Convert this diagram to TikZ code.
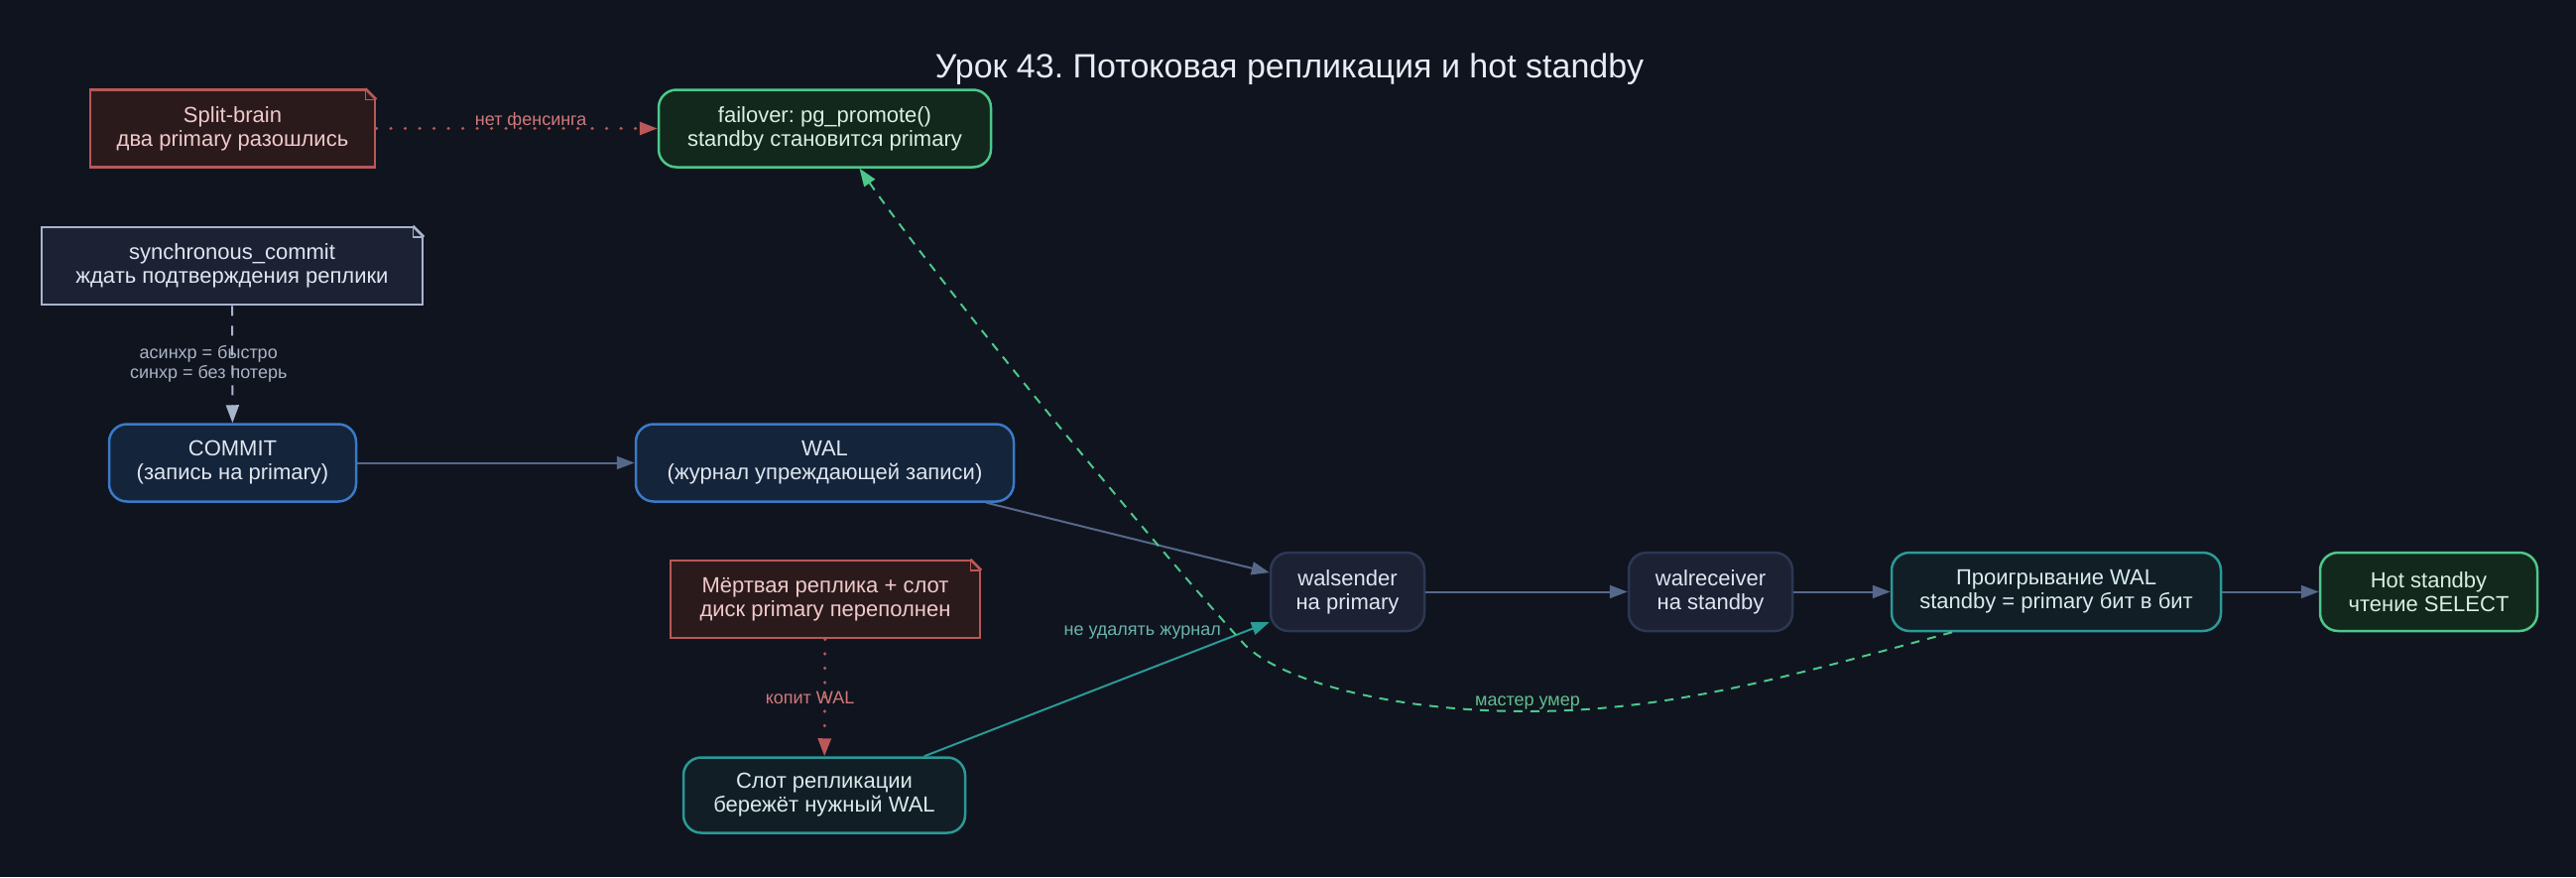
\documentclass[tikz,border=0pt]{standalone}
\usepackage{fontspec}
\setmainfont{Liberation Sans}
\usetikzlibrary{arrows.meta}
\frenchspacing

\definecolor{bgcol}{HTML}{10141F}
\definecolor{titlecol}{HTML}{E8ECF4}
\definecolor{flowcol}{HTML}{56688A}
% red notes
\definecolor{redfill}{HTML}{2B1A1C}
\definecolor{redline}{HTML}{B85858}
\definecolor{redtext}{HTML}{F0CACA}
\definecolor{redlbl}{HTML}{D07A7A}
% green boxes
\definecolor{greenfill}{HTML}{12281C}
\definecolor{greenline}{HTML}{4CC88A}
\definecolor{greentext}{HTML}{D8F0E0}
\definecolor{greenlbl}{HTML}{62C08C}
% blue boxes
\definecolor{bluefill}{HTML}{14243A}
\definecolor{blueline}{HTML}{3A7AC8}
% slate boxes and gray note
\definecolor{slatefill}{HTML}{1C2234}
\definecolor{slateline}{HTML}{2C3854}
\definecolor{grayline}{HTML}{A8B4CC}
\definecolor{graylbl}{HTML}{AAB4C6}
\definecolor{lighttext}{HTML}{E0E6F0}
% teal boxes
\definecolor{tealfill}{HTML}{121E26}
\definecolor{tealline}{HTML}{2A9A96}
\definecolor{teallbl}{HTML}{6AB4B0}
\definecolor{tealtext}{HTML}{D8ECEC}

\tikzset{
    box/.style={rounded corners=18pt, line width=2.5pt, align=center, inner sep=0pt,
        minimum height=78pt, font=\fontsize{22}{24}\selectfont},
    greenbox/.style={box, draw=greenline, fill=greenfill, text=greentext},
    bluebox/.style={box, draw=blueline, fill=bluefill, text=lighttext},
    slatebox/.style={box, draw=slateline, fill=slatefill, text=lighttext},
    tealbox/.style={box, draw=tealline, fill=tealfill, text=tealtext},
    rednote/.style={box, rounded corners=0pt, draw=redline, fill=redfill, text=redtext},
    graynote/.style={box, rounded corners=0pt, draw=grayline, fill=slatefill, text=lighttext},
    lbl/.style={font=\fontsize{18}{20}\selectfont, align=center, inner sep=0pt},
    tip/.style={-{Triangle[length=18pt,width=13pt]}},
    flow/.style={draw=flowcol, line width=2pt, tip},
    tealflow/.style={draw=tealline, line width=2pt, tip},
    redflow/.style={draw=redline, line width=3pt, line cap=round, dash pattern=on 0.5pt off 14pt, tip},
    greenflow/.style={draw=greenline, line width=2pt, dash pattern=on 9pt off 8pt, tip},
    noteflow/.style={draw=grayline, line width=2pt, dash pattern=on 10pt off 10pt, tip},
}

\begin{document}
\begin{tikzpicture}[x=1pt, y=-1pt]
    \useasboundingbox[fill=bgcol] (0,0) rectangle (2597,884);
    % title
    \node[font=\fontsize{34}{40}\selectfont, text=titlecol] (title) at (1300,70)
        {Урок 43. Потоковая репликация и hot standby};
    % top row
    \node[rednote, minimum width=287pt] (split) at (234.5,129.5) {Split-brain\\два primary разошлись};
    \node[greenbox, minimum width=335pt] (failover) at (831.5,129.5) {failover: pg\_promote()\\standby становится primary};
    \node[graynote, minimum width=384pt] (sync) at (234,268) {synchronous\_commit\\ждать подтверждения реплики};
    % primary side
    \node[bluebox, minimum width=249pt] (commit) at (234.5,466.5) {COMMIT\\(запись на primary)};
    \node[bluebox, minimum width=381pt] (wal) at (831.5,466.5) {WAL\\(журнал упреждающей записи)};
    \node[rednote, minimum width=312pt] (dead) at (832,604) {Мёртвая реплика + слот\\диск primary переполнен};
    \node[tealbox, minimum width=284pt, minimum height=76pt] (slot) at (831,801.5) {Слот репликации\\бережёт нужный WAL};
    % streaming chain
    \node[slatebox, minimum width=155pt, minimum height=79pt] (walsender) at (1358.5,596.5) {walsender\\на primary};
    \node[slatebox, minimum width=165pt, minimum height=79pt] (walreceiver) at (1724.5,596.5) {walreceiver\\на standby};
    \node[tealbox, minimum width=332pt, minimum height=79pt] (replay) at (2073,596.5) {Проигрывание WAL\\standby = primary бит в бит};
    \node[greenbox, minimum width=219pt, minimum height=79pt] (hot) at (2448.5,596.5) {Hot standby\\чтение SELECT};

    % folded corners of the notes
    \foreach \n/\c in {split/redline, sync/grayline, dead/redline} {
        \fill[bgcol] ([xshift=-12pt,yshift=2pt]\n.north east) -- ([xshift=2pt,yshift=2pt]\n.north east)
            -- ([xshift=2pt,yshift=-12pt]\n.north east) -- cycle;
        \draw[\c, line width=2.5pt] ([xshift=-11pt]\n.north east) -- ([yshift=-11pt]\n.north east);
        \draw[\c, line width=1.5pt] ([xshift=-11pt]\n.north east) -- ([xshift=-11pt,yshift=-11pt]\n.north east)
            -- ([yshift=-11pt]\n.north east);
    }

    % connectors
    \draw[redflow] (split) -- (failover)
        node[lbl, pos=0.55, yshift=8pt, text=redlbl] {нет фенсинга};
    \draw[noteflow] (sync) -- (commit)
        node[lbl, midway, xshift=-24pt, text=graylbl] {асинхр = быстро\\синхр = без потерь};
    \draw[flow] (commit) -- (wal);
    \draw[flow] (wal) -- (walsender);
    \draw[redflow] (dead) -- (slot)
        node[lbl, midway, xshift=-15pt, text=redlbl] {копит WAL};
    \draw[tealflow] (slot) -- (walsender)
        node[lbl, pos=0.632, yshift=39pt, text=teallbl] {не удалять журнал};
    \draw[flow] (walsender) -- (walreceiver);
    \draw[flow] (walreceiver) -- (replay);
    \draw[flow] (replay) -- (hot);
    \draw[greenflow] ([xshift=-105pt]replay.south) .. controls (1800,683) and (1680,717) .. (1540,717)
        node[lbl, yshift=8pt, text=greenlbl] {мастер умер}
        .. controls (1400,717) and (1290,685) .. (1255,650)
        .. controls (1155,540) and (946,284) .. ([xshift=35pt]failover.south);
\end{tikzpicture}
\end{document}
